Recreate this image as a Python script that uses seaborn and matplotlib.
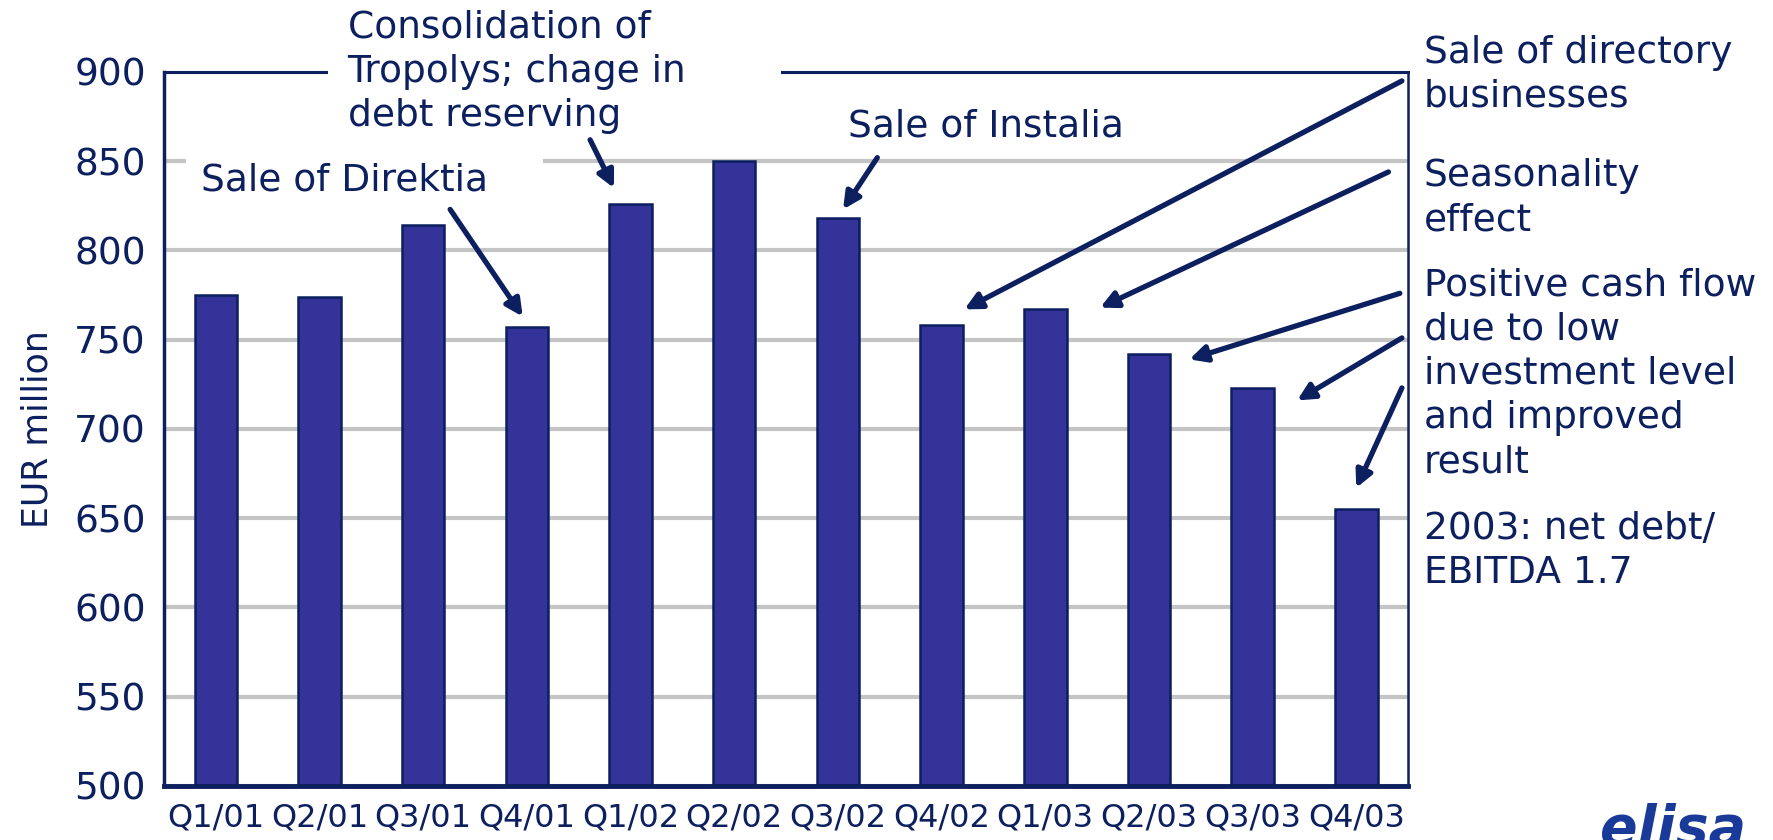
import matplotlib
matplotlib.use("Agg")
import matplotlib.pyplot as plt
from matplotlib.patches import Rectangle
from matplotlib.ticker import FixedLocator
import seaborn as sns

# data
quarters = ["Q1/01", "Q2/01", "Q3/01", "Q4/01", "Q1/02", "Q2/02",
            "Q3/02", "Q4/02", "Q1/03", "Q2/03", "Q3/03", "Q4/03"]
net_debt = [775, 774, 814, 757, 826, 850, 818, 758, 767, 742, 723, 655]
y_ticks = [500, 550, 600, 650, 700, 750, 800, 850, 900]

navy = "#0c1f5e"
bar_col = "#333399"

sns.set_style("white")
plt.rcParams["font.family"] = ["DejaVu Sans"]

fig = plt.figure(figsize=(17.73, 8.4), dpi=100)
ax = fig.add_axes([0.0925, 0.0643, 0.7017, 0.8500])

sns.barplot(x=quarters, y=net_debt, color=bar_col, saturation=1, width=0.41,
            edgecolor=navy, linewidth=1.8, ax=ax, zorder=2)

ax.set_ylim(500, 900)
ax.set_xlim(-0.5, 11.5)
ax.set_yticks(y_ticks)
ax.yaxis.grid(True, color="#c4c4c4", linewidth=3)
ax.set_axisbelow(True)

ax.tick_params(axis="y", labelsize=27, colors=navy, length=8, width=2, pad=5)
ax.tick_params(axis="x", which="major", labelsize=23, colors=navy, length=0, pad=12)
ax.xaxis.set_minor_locator(FixedLocator([i - 0.5 for i in range(13)]))
ax.tick_params(axis="x", which="minor", length=11, width=2, color=navy)

ax.set_xlabel("")
ax.set_ylabel("EUR million", fontsize=25, color=navy, labelpad=14)

for side, lw in [("left", 2.5), ("bottom", 3.5), ("right", 1.8), ("top", 2.2)]:
    ax.spines[side].set_visible(True)
    ax.spines[side].set_color(navy)
    ax.spines[side].set_linewidth(lw)

# white boxes behind text blocks that interrupt the frame and grid
ax.add_patch(Rectangle((0.132, 0.93), 0.364, 0.12, transform=ax.transAxes,
                       facecolor="white", edgecolor="none", zorder=2.6, clip_on=False))
ax.add_patch(Rectangle((0.018, 0.80), 0.287, 0.10, transform=ax.transAxes,
                       facecolor="white", edgecolor="none", zorder=1.5))

txt = dict(fontsize=27, color=navy, zorder=3)
ax.text(0.0295, 0.848, "Sale of Direktia", transform=ax.transAxes, va="center", ha="left", **txt)
ax.text(0.1475, 1.0, "Consolidation of\nTropolys; chage in\ndebt reserving",
        transform=ax.transAxes, va="center", ha="left", clip_on=False,
        linespacing=1.3, **txt)
ax.text(0.55, 0.923, "Sale of Instalia", transform=ax.transAxes, va="center", ha="left", **txt)

side_txt = dict(fontsize=27, color=navy, va="center", ha="left", linespacing=1.3)
fig.text(0.803, 0.911, "Sale of directory\nbusinesses", **side_txt)
fig.text(0.803, 0.764, "Seasonality\neffect", **side_txt)
fig.text(0.803, 0.555, "Positive cash flow\ndue to low\ninvestment level\nand improved\nresult", **side_txt)
fig.text(0.803, 0.344, "2003: net debt/\nEBITDA 1.7", **side_txt)

fig.text(0.985, -0.02, "elisa", fontsize=40, fontweight="bold", fontstyle="italic",
         color="#1a3a9a", ha="right", va="bottom")

# arrows: (tail, head) in data coordinates
arrows = [((2.26, 823), (2.96, 763)),
          ((3.61, 862), (3.84, 835)),
          ((6.38, 852), (6.05, 823)),
          ((11.44, 895), (7.22, 767)),
          ((11.31, 844), (8.53, 768)),
          ((11.42, 776), (9.39, 739)),
          ((11.44, 751), (10.43, 716)),
          ((11.44, 723), (11.0, 667))]
for tail, head in arrows:
    ax.annotate("", xy=head, xytext=tail,
                arrowprops=dict(arrowstyle="-|>,head_length=1.0,head_width=0.5",
                                color=navy, lw=3.8, shrinkA=0, shrinkB=0),
                zorder=4)

fig.savefig("out.png", dpi=100)
